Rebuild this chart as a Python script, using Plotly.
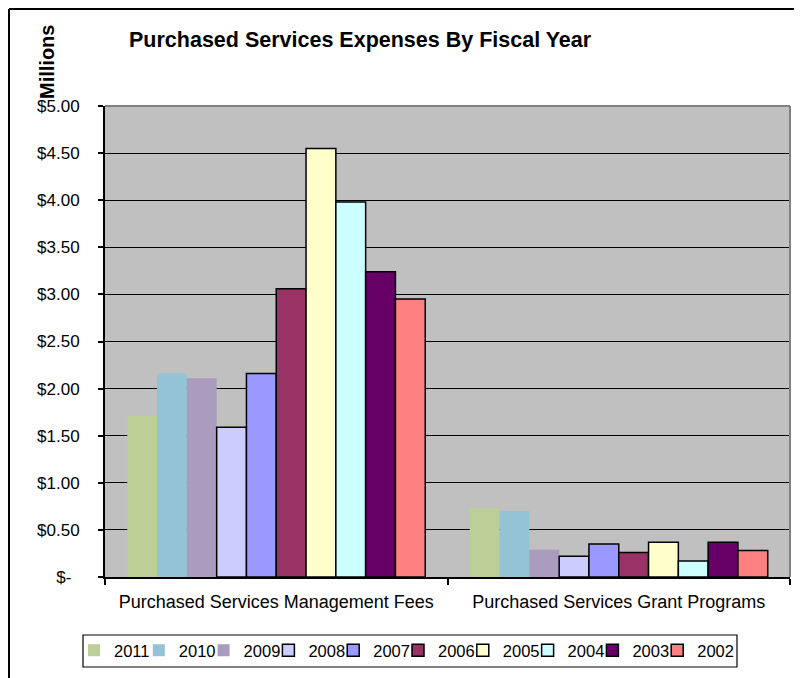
import plotly.graph_objects as go

categories = ["Purchased Services Management Fees", "Purchased Services Grant Programs"]
years = ["2011", "2010", "2009", "2008", "2007", "2006", "2005", "2004", "2003", "2002"]
mgmt_fees = [1.71, 2.16, 2.11, 1.59, 2.16, 3.06, 4.55, 3.98, 3.24, 2.95]
grant_programs = [0.73, 0.70, 0.29, 0.22, 0.35, 0.26, 0.37, 0.17, 0.37, 0.28]
colors = ["#BBCF96", "#93C3D5", "#AA9BBF", "#CCCCFF", "#9999FF",
          "#993366", "#FFFFCC", "#CCFFFF", "#660066", "#FF8080"]
outlined = [False, False, False, True, True, True, True, True, True, True]
tick_vals = [0, 0.5, 1.0, 1.5, 2.0, 2.5, 3.0, 3.5, 4.0, 4.5, 5.0]
tick_text = ["$-\u00a0\u2009", "$0.50", "$1.00", "$1.50", "$2.00", "$2.50",
             "$3.00", "$3.50", "$4.00", "$4.50", "$5.00"]

FONT = "Liberation Sans, Arial, sans-serif"

OFF = 8  # page body margin offset
W, H = 802, 678
# target positions in the screenshot (page coords)
PL, PR, PT, PB = 105, 790, 106, 577
L = PL - OFF
T = PT - OFF
R = W - (PR - OFF)
B = H - (PB - OFF)
pw, ph = W - L - R, H - T - B

def px(x):
    return (x - OFF - L) / pw

def py(y):
    return (H - B - (y - OFF)) / ph

fig = go.Figure()
legend_layouts = {}
for i, yr in enumerate(years):
    lg = "legend" if i == 0 else f"legend{i + 1}"
    fig.add_trace(go.Bar(
        name=yr,
        x=categories,
        y=[mgmt_fees[i], grant_programs[i]],
        legend=lg,
        marker=dict(color=colors[i],
                    line=dict(color="#000000", width=1.5 if outlined[i] else 0)),
    ))
    legend_layouts[lg] = dict(
        orientation="h",
        x=px(114 + 64.8 * i - 40), xanchor="left",
        y=py(633), yanchor="top",
        bgcolor="rgba(0,0,0,0)",
        borderwidth=0,
        font=dict(family=FONT, size=16.5),
        itemwidth=30,
        itemclick=False,
    )

fig.update_layout(
    width=W, height=H,
    margin=dict(l=L, r=R, t=T, b=B, pad=0),
    paper_bgcolor="white",
    plot_bgcolor="#C0C0C0",
    barmode="group",
    bargap=0.13,
    bargroupgap=0,
    font=dict(family=FONT, size=16, color="#000000"),
    showlegend=True,
    xaxis=dict(
        type="category",
        showline=True, linecolor="#000000", linewidth=2,
        ticks="outside", tickson="boundaries", ticklen=6, tickcolor="#000000",
        tickwidth=1.5,
        showgrid=False,
        tickfont=dict(family=FONT, size=18),
        ticklabelstandoff=7,
    ),
    yaxis=dict(
        range=[0, 5],
        tickvals=tick_vals, ticktext=tick_text,
        showline=True, linecolor="#000000", linewidth=2,
        ticks="outside", ticklen=5, tickcolor="#000000", tickwidth=1.5,
        showgrid=True, gridcolor="#000000", gridwidth=1.2,
        zeroline=False,
        tickfont=dict(family=FONT, size=17),
        ticklabelstandoff=15,
    ),
    annotations=[
        dict(text="<b>Purchased Services Expenses By Fiscal Year</b>",
             xref="paper", yref="paper", x=px(127), y=py(40),
             xanchor="left", yanchor="middle", showarrow=False,
             font=dict(family=FONT, size=21.5, color="#000000")),
        dict(text="<b>Millions</b>",
             xref="paper", yref="paper", x=px(47), y=py(62),
             xanchor="center", yanchor="middle", showarrow=False, textangle=-90,
             font=dict(family=FONT, size=20, color="#000000")),
    ],
    shapes=[
        dict(type="line", xref="paper", yref="paper", x0=0, x1=1, y0=1, y1=1,
             line=dict(color="#808080", width=2)),
        dict(type="line", xref="paper", yref="paper", x0=1, x1=1, y0=0, y1=1,
             line=dict(color="#808080", width=2)),
        dict(type="line", xref="paper", yref="paper", x0=px(9), x1=px(820),
             y0=py(9), y1=py(9), line=dict(color="#000000", width=2)),
        dict(type="line", xref="paper", yref="paper", x0=px(9), x1=px(9),
             y0=py(9), y1=py(700), line=dict(color="#000000", width=2)),
        dict(type="rect", xref="paper", yref="paper", x0=px(83), x1=px(737),
             y0=py(667), y1=py(635), line=dict(color="#000000", width=1.2),
             fillcolor="white", layer="below"),
    ],
    **legend_layouts,
)

fig.write_html("out.html")
